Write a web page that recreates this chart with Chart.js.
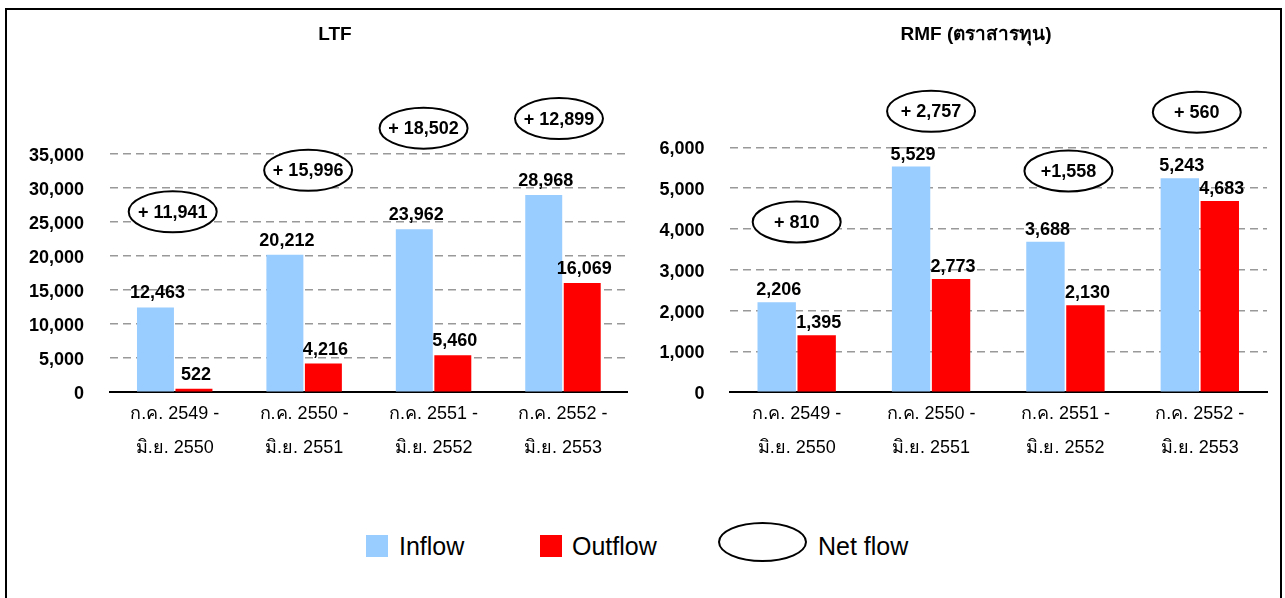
<!DOCTYPE html>
<html>
<head>
<meta charset="utf-8">
<title>LTF / RMF fund flows</title>
<script src="https://cdn.jsdelivr.net/npm/chart.js@4.4.1/dist/chart.umd.min.js"></script>
<style>
  html, body { margin: 0; padding: 0; background: #fff; }
  body { width: 1285px; height: 598px; position: relative; overflow: hidden;
         font-family: "Liberation Sans", Arial, sans-serif; }
  #frame { position: absolute; left: 5px; top: 8px; width: 1277px; height: 640px;
           border: 2px solid #000; box-sizing: border-box; }
  canvas { position: absolute; top: 0; }
  #ltf { left: 0; }
  #rmf { left: 640px; }
  .key { position: absolute; }
  .swatch { width: 22px; height: 22px; top: 535px; }
  .ring { left: 718px; top: 522px; width: 89px; height: 40px; border: 2px solid #000;
          border-radius: 50%; box-sizing: border-box; }
  .name { top: 531px; font-size: 25px; line-height: 30px; color: #000; }
</style>
</head>
<body>
<div id="frame"></div>
<canvas id="ltf" width="640" height="480"></canvas>
<canvas id="rmf" width="645" height="480"></canvas>

<div class="key swatch" style="left:366px;background:#99CCFF"></div>
<div class="key name" style="left:399px">Inflow</div>
<div class="key swatch" style="left:540px;background:#FF0000"></div>
<div class="key name" style="left:572px">Outflow</div>
<div class="key ring"></div>
<div class="key name" style="left:818px">Net flow</div>

<script>
// Fiscal periods (July - June, Thai Buddhist years)
const periods = [
  ['ก.ค. 2549 -', 'มิ.ย. 2550'],
  ['ก.ค. 2550 -', 'มิ.ย. 2551'],
  ['ก.ค. 2551 -', 'มิ.ย. 2552'],
  ['ก.ค. 2552 -', 'มิ.ย. 2553']
];

// LTF flows (million baht)
const ltfInflow  = [12463, 20212, 23962, 28968];
const ltfOutflow = [522, 4216, 5460, 16069];
const ltfNet     = [11941, 15996, 18502, 12899];

// RMF (equity) flows (million baht)
const rmfInflow  = [2206, 5529, 3688, 5243];
const rmfOutflow = [1395, 2773, 2130, 4683];
const rmfNet     = [810, 2757, 1558, 560];
const rmfNetSign = ['+ ', '+ ', '+', '+ '];

// Value axes
const ltfAxis = { max: 35000, step: 5000 };
const rmfAxis = { max: 6000, step: 1000 };

const FONT = '"Liberation Sans", Arial, sans-serif';
const INFLOW = '#99CCFF';
const OUTFLOW = '#FF0000';
const fmt = v => v.toLocaleString('en-US');

// Panel heading drawn at a fixed spot above the plot
const panelTitle = {
  id: 'panelTitle',
  afterDraw(chart, args, opts) {
    const ctx = chart.ctx;
    ctx.save();
    ctx.font = 'bold 19px ' + FONT;
    ctx.fillStyle = '#000';
    ctx.textAlign = 'center';
    ctx.textBaseline = 'middle';
    ctx.fillText(opts.text, opts.x, opts.y);
    ctx.restore();
  }
};

// Value printed above every bar
const barValues = {
  id: 'barValues',
  afterDatasetsDraw(chart, args, opts) {
    const ctx = chart.ctx;
    ctx.save();
    ctx.font = 'bold 18px ' + FONT;
    ctx.fillStyle = '#000';
    ctx.textAlign = 'center';
    ctx.textBaseline = 'alphabetic';
    chart.data.datasets.forEach((ds, di) => {
      chart.getDatasetMeta(di).data.forEach((bar, i) => {
        ctx.fillText(fmt(ds.data[i]), bar.x + 2, bar.y - opts.gap);
      });
    });
    ctx.restore();
  }
};

// Net flow shown in an ellipse above each period
const netBubbles = {
  id: 'netBubbles',
  afterDraw(chart, args, opts) {
    const ctx = chart.ctx;
    const xs = chart.scales.x, ys = chart.scales.y;
    ctx.save();
    ctx.font = 'bold 18px ' + FONT;
    ctx.textAlign = 'center';
    ctx.textBaseline = 'middle';
    opts.values.forEach((v, i) => {
      const cx = xs.getPixelForValue(i) + opts.dx[i];
      const cy = ys.getPixelForValue(opts.at[i]);
      ctx.beginPath();
      ctx.ellipse(cx, cy, 44, 20.5, 0, 0, Math.PI * 2);
      ctx.fillStyle = '#fff';
      ctx.fill();
      ctx.lineWidth = 2;
      ctx.strokeStyle = '#000';
      ctx.stroke();
      ctx.fillStyle = '#000';
      ctx.fillText((opts.sign ? opts.sign[i] : '+ ') + fmt(v), cx, cy + 1);
    });
    ctx.restore();
  }
};

function makePanel(canvasId, cfg) {
  return new Chart(document.getElementById(canvasId), {
    type: 'bar',
    data: {
      labels: periods,
      datasets: [
        { label: 'Inflow', data: cfg.inflow, backgroundColor: INFLOW },
        { label: 'Outflow', data: cfg.outflow, backgroundColor: OUTFLOW }
      ]
    },
    options: {
      responsive: false,
      animation: false,
      devicePixelRatio: 1,
      datasets: { bar: { categoryPercentage: 0.595, barPercentage: 0.96 } },
      layout: { padding: { left: 0, right: cfg.padRight, top: cfg.top, bottom: 0 } },
      plugins: {
        legend: { display: false },
        tooltip: { enabled: false },
        title: { display: false },
        panelTitle: { text: cfg.title, x: cfg.titleX, y: 35 },
        barValues: { gap: cfg.gap },
        netBubbles: { values: cfg.net, at: cfg.bubbleAt, dx: cfg.bubbleDx, sign: cfg.sign }
      },
      scales: {
        x: {
          grid: { display: false, drawTicks: false },
          border: { display: true, color: '#000', width: 2 },
          ticks: {
            color: '#000',
            padding: 5,
            maxRotation: 0,
            autoSkip: false,
            font: { family: FONT, size: 18, lineHeight: 1.87 }
          },
          afterFit(s) { s.height = 87.7; }
        },
        y: {
          min: 0,
          max: cfg.axis.max,
          grid: {
            drawTicks: false,
            lineWidth: 1.6,
            color: c => (c.tick && c.tick.value === 0) ? 'rgba(0,0,0,0)' : '#999999'
          },
          border: { display: false, dash: [8, 5] },
          ticks: {
            stepSize: cfg.axis.step,
            color: '#000',
            padding: cfg.tickPad,
            labelOffset: 2,
            font: { family: FONT, size: 18, weight: 'bold' },
            callback: v => fmt(v)
          },
          afterFit(s) { s.width = cfg.axisWidth; }
        }
      }
    },
    plugins: [panelTitle, barValues, netBubbles]
  });
}

makePanel('ltf', {
  title: 'LTF', titleX: 335,
  inflow: ltfInflow, outflow: ltfOutflow, net: ltfNet,
  bubbleAt: [26500, 32600, 38800, 40200], bubbleDx: [-2, 4, -10, -4],
  axis: ltfAxis, axisWidth: 110, padRight: 12.3, top: 154, tickPad: 26, gap: 9
});

makePanel('rmf', {
  title: 'RMF (ตราสารทุน)', titleX: 336,
  inflow: rmfInflow, outflow: rmfOutflow, net: rmfNet, sign: rmfNetSign,
  bubbleAt: [4170, 6880, 5420, 6860], bubbleDx: [0, 0, 3, -3],
  axis: rmfAxis, axisWidth: 89.5, padRight: 18, top: 147.3, tickPad: 25, gap: 7
});
</script>
</body>
</html>
